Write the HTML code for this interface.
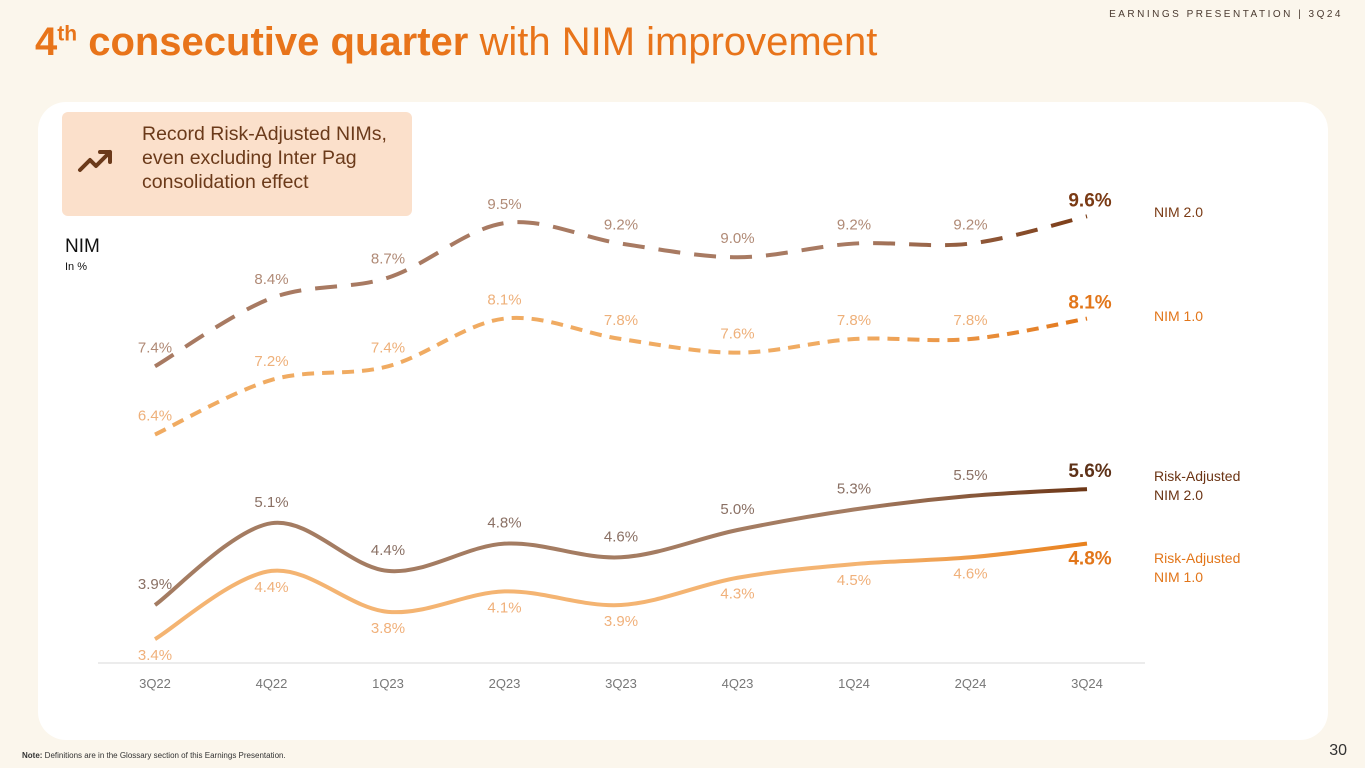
<!DOCTYPE html>
<html><head><meta charset="utf-8">
<style>
body{margin:0;width:1365px;height:768px;background:#fbf6ec;font-family:"Liberation Sans",sans-serif;position:relative;overflow:hidden}
.hdr{position:absolute;right:22px;top:9px;font-size:10px;letter-spacing:2.5px;color:#4a3a30}
h1{position:absolute;left:35px;top:20px;margin:0;font-size:40px;font-weight:normal;color:#e8741a;letter-spacing:0px}
h1 b sup{font-size:21px}
.card{position:absolute;left:38px;top:102px;width:1290px;height:638px;background:#fff;border-radius:28px}
.callout{position:absolute;left:62px;top:112px;width:350px;height:104px;background:#fbe0cb;border-radius:6px}
.callout .t{position:absolute;left:80px;top:10px;font-size:19.5px;line-height:24px;color:#6b3a1a}
.note{position:absolute;left:22px;top:751px;font-size:8px;color:#333}
.pg{position:absolute;right:18px;top:742px;font-size:16px;color:#333}
</style></head><body>
<div class="hdr">EARNINGS PRESENTATION | 3Q24</div>
<h1><b>4<sup>th</sup> consecutive quarter</b> with NIM improvement</h1>
<div class="card"></div>
<div class="callout">
<svg width="40" height="30" style="position:absolute;left:14px;top:34px"><path d="M4 24 L14 14 L20 20 L34 6 M24 6 L34 6 L34 16" fill="none" stroke="#6b3a1a" stroke-width="4" stroke-linecap="round" stroke-linejoin="round"/></svg>
<div class="t">Record Risk-Adjusted NIMs,<br>even excluding Inter Pag<br>consolidation effect</div></div>
<svg id="ch" width="1365" height="768" style="position:absolute;left:0;top:0"></svg>
<div class="note"><b>Note:</b> Definitions are in the Glossary section of this Earnings Presentation.</div>
<div class="pg">30</div>
<script>
const categories=["3Q22","4Q22","1Q23","2Q23","3Q23","4Q23","1Q24","2Q24","3Q24"];
const nim2=[7.4,8.4,8.7,9.5,9.2,9.0,9.2,9.2,9.6];
const nim1=[6.4,7.2,7.4,8.1,7.8,7.6,7.8,7.8,8.1];
const ra2=[3.9,5.1,4.4,4.8,4.6,5.0,5.3,5.5,5.6];
const ra1=[3.4,4.4,3.8,4.1,3.9,4.3,4.5,4.6,4.8];
const seriesNames=["NIM 2.0","NIM 1.0","Risk-Adjusted NIM 2.0","Risk-Adjusted NIM 1.0"];
const NS="http://www.w3.org/2000/svg";
const svg=document.getElementById('ch');
const x=i=>155+i*116.5;
const y=v=>871-68.2*v;
function mk(t,a,p){const e=document.createElementNS(NS,t);for(const k in a)e.setAttribute(k,a[k]);(p||svg).appendChild(e);return e;}
const defs=mk('defs',{});
function grad(id,c1,c2){const g=mk('linearGradient',{id:id,gradientUnits:'userSpaceOnUse',x1:155,y1:0,x2:1090,y2:0},defs);mk('stop',{offset:'0','stop-color':c1},g);mk('stop',{offset:'0.75','stop-color':c1},g);mk('stop',{offset:'1','stop-color':c2},g);}
grad('g2','#a87a62','#7a3a14');grad('g1','#f0ab62','#e2761a');grad('r2','#a47c62','#6b3414');grad('r1','#f4b472','#e8801c');
const ax=mk('line',{x1:98,x2:1145,y1:663,y2:663,stroke:'#ececec','stroke-width':2});

categories.forEach((c,i)=>{const t=mk('text',{x:x(i),y:688,'text-anchor':'middle','font-size':13,fill:'#777'});t.textContent=c;
});
function path(vals){const p=vals.map((v,i)=>[x(i),y(v)]);let d=`M${p[0][0]},${p[0][1]}`;
for(let i=0;i<p.length-1;i++){const p0=p[i-1]||p[i],p1=p[i],p2=p[i+1],p3=p[i+2]||p2;
const c1=[p1[0]+(p2[0]-p0[0])/6,p1[1]+(p2[1]-p0[1])/6],c2=[p2[0]-(p3[0]-p1[0])/6,p2[1]-(p3[1]-p1[1])/6];
d+=` C${c1[0]},${c1[1]} ${c2[0]},${c2[1]} ${p2[0]},${p2[1]}`;}return d;}
function series(vals,g,dash,name,lblCol,lastCol,off){
const p=mk('path',{d:path(vals),fill:'none',stroke:`url(#${g})`,'stroke-width':4,'stroke-dasharray':dash,'stroke-linecap':'butt'});

vals.forEach((v,i)=>{const last=i==vals.length-1;const t=mk('text',{x:last?x(i)+3:x(i),y:y(v)+off+(last&&off<0?4:0),'text-anchor':'middle','font-size':last?19:15,'font-weight':last?'bold':'normal',fill:last?lastCol:lblCol});
t.textContent=v.toFixed(1)+'%';});}
series(nim2,'g2','22 14','nim-2','#b08a76','#7a3a14',-14);
series(nim1,'g1','12 8','nim-1','#eeb07a','#e2761a',-14);
series(ra2,'r2','','ra-nim-2','#8a7064','#5e3218',-16);
series(ra1,'r1','','ra-nim-1','#f0b07a','#e2761a',21);
const leg=[[seriesNames[0],'#7a3a14',217],[seriesNames[1],'#e2761a',321]];
leg.forEach(l=>{const t=mk('text',{x:1154,y:l[2],'font-size':14,fill:l[1]});t.textContent=l[0];});
[[['Risk-Adjusted','NIM 2.0'],'#6b3414',481],[['Risk-Adjusted','NIM 1.0'],'#e2761a',563]].forEach(l=>{const t=mk('text',{x:1154,y:l[2],'font-size':14,fill:l[1]});
l[0].forEach((s,k)=>{const ts=mk('tspan',{x:1154,dy:k?19:0},t);ts.textContent=s;});});
const n=mk('text',{x:65,y:252,'font-size':19,fill:'#111'});n.textContent='NIM';
const u=mk('text',{x:65,y:270,'font-size':11,fill:'#111'});u.textContent='In %';
</script>
</body></html>
